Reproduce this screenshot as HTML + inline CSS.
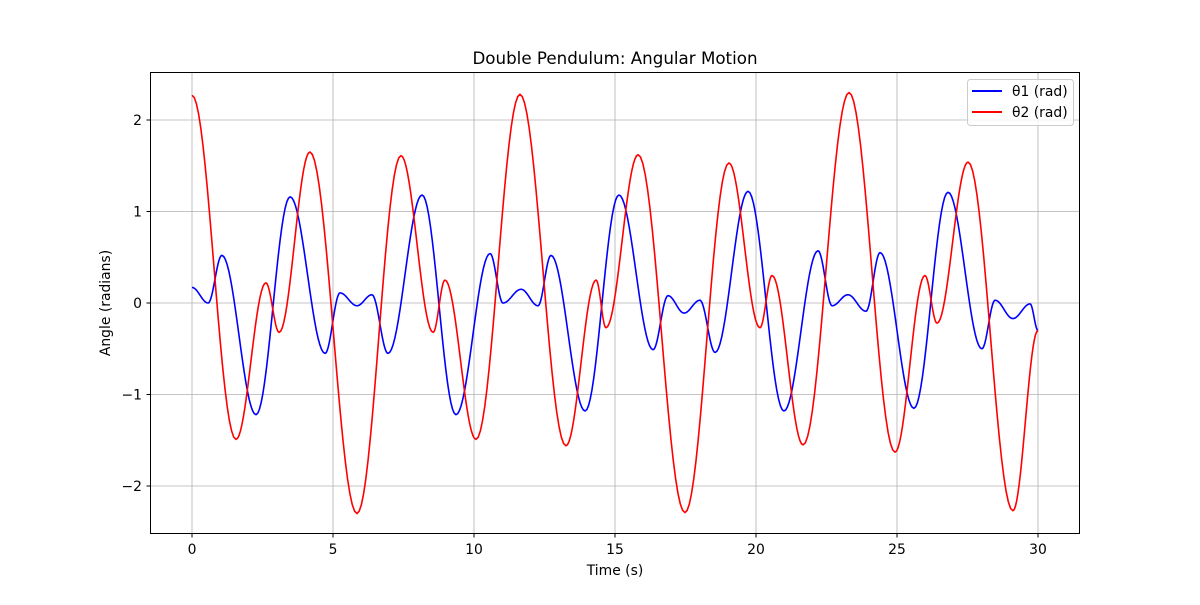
<!DOCTYPE html>
<html><head><meta charset="utf-8"><style>
body{margin:0;background:#fff;}
svg text{font-family:"DejaVu Sans","Liberation Sans",sans-serif;fill:#000;}
</style></head><body>
<svg id="chart" width="1200" height="600" xmlns="http://www.w3.org/2000/svg">
<rect width="1200" height="600" fill="#fff"/>
<g id="grid"></g>
<g id="series"></g>
<rect x="150.5" y="72.5" width="929" height="461" fill="none" stroke="#000" stroke-width="1"/>
<g id="ticks"></g>
<text x="615" y="64" font-size="16.7" text-anchor="middle">Double Pendulum: Angular Motion</text>
<text x="615" y="575" font-size="13.9" text-anchor="middle">Time (s)</text>
<text x="110" y="303" font-size="13.9" text-anchor="middle" transform="rotate(-90 110 303)">Angle (radians)</text>
<g>
<rect x="967.5" y="79.5" width="106" height="46" rx="3" fill="#fff" fill-opacity="0.8" stroke="#ccc"/>
<line x1="972" y1="91" x2="1002" y2="91" stroke="#0000ff" stroke-width="2"/>
<text x="1012" y="96" font-size="13.9">θ1 (rad)</text>
<line x1="972" y1="112" x2="1002" y2="112" stroke="#ff0000" stroke-width="2"/>
<text x="1012" y="117" font-size="13.9">θ2 (rad)</text>
</g>
</svg>
<script>
const xTicks=[0,5,10,15,20,25,30];
const yTicks=[-2,-1,0,1,2];
const yTickLabels=["−2","−1","0","1","2"];
const theta1T=[0,0.57,1.06,2.27,3.48,4.72,5.25,5.85,6.38,6.95,8.16,9.36,10.57,11.03,11.67,12.27,12.73,13.94,15.14,16.35,16.88,17.45,18.01,18.55,19.72,20.99,22.2,22.7,23.26,23.9,24.4,25.6,26.81,28.01,28.48,29.11,29.72,30];
const theta1V=[0.17,0.0,0.52,-1.22,1.16,-0.55,0.11,-0.03,0.09,-0.55,1.18,-1.22,0.54,0.0,0.15,-0.03,0.52,-1.18,1.18,-0.51,0.08,-0.11,0.03,-0.54,1.22,-1.18,0.57,-0.03,0.09,-0.09,0.55,-1.15,1.21,-0.5,0.03,-0.17,-0.01,-0.3];
const theta2T=[0,1.56,2.62,3.09,4.18,5.85,7.41,8.55,8.97,10.07,11.63,13.26,14.33,14.68,15.82,17.48,19.04,20.14,20.57,21.67,23.3,24.93,25.99,26.42,27.52,29.11,30];
const theta2V=[2.27,-1.49,0.22,-0.32,1.65,-2.3,1.61,-0.32,0.25,-1.49,2.28,-1.56,0.25,-0.27,1.62,-2.29,1.53,-0.27,0.30,-1.55,2.30,-1.63,0.30,-0.22,1.54,-2.27,-0.3];
const NS="http://www.w3.org/2000/svg";
const X=t=>192+t*(1038-192)/30;
const Y=v=>303-v*91.5;
function mk(tag,attrs,parent){const e=document.createElementNS(NS,tag);for(const k in attrs)e.setAttribute(k,attrs[k]);parent.appendChild(e);return e;}
const grid=document.getElementById('grid'),ticks=document.getElementById('ticks'),series=document.getElementById('series');
xTicks.forEach(t=>{
 const gl=mk('line',{x1:X(t),x2:X(t),y1:72,y2:534,stroke:'#b0b0b0','stroke-width':0.8},grid);
 
 
 const tk=mk('line',{x1:X(t),x2:X(t),y1:534,y2:537.5,stroke:'#000'},ticks);
 
 
 const tx=mk('text',{x:X(t),y:554,'font-size':13.9,'text-anchor':'middle'},ticks);
 tx.textContent=t;
 
 
});
yTicks.forEach((v,i)=>{
 const gl=mk('line',{x1:150,x2:1080,y1:Y(v),y2:Y(v),stroke:'#b0b0b0','stroke-width':0.8},grid);
 
 
 const tk=mk('line',{x1:146.5,x2:150,y1:Y(v),y2:Y(v),stroke:'#000'},ticks);
 
 
 const tx=mk('text',{x:142,y:Y(v)+5,'font-size':13.9,'text-anchor':'end'},ticks);
 tx.textContent=yTickLabels[i];
 
 
});
function pathFor(T,V){
 let d='M'+X(T[0]).toFixed(2)+','+Y(V[0]).toFixed(2);
 for(let i=0;i<T.length-1;i++){
  for(let k=1;k<=20;k++){const s=k/20;const f=(1-Math.cos(Math.PI*s))/2;
   const t=T[i]+(T[i+1]-T[i])*s,v=V[i]+(V[i+1]-V[i])*f;
   d+=' L'+X(t).toFixed(2)+','+Y(v).toFixed(2);}
 }
 return d;
}
const p1=mk('path',{d:pathFor(theta1T,theta1V),fill:'none',stroke:'#0000ff','stroke-width':1.6},series);


const p2=mk('path',{d:pathFor(theta2T,theta2V),fill:'none',stroke:'#ff0000','stroke-width':1.6},series);


</script>
</body></html>
